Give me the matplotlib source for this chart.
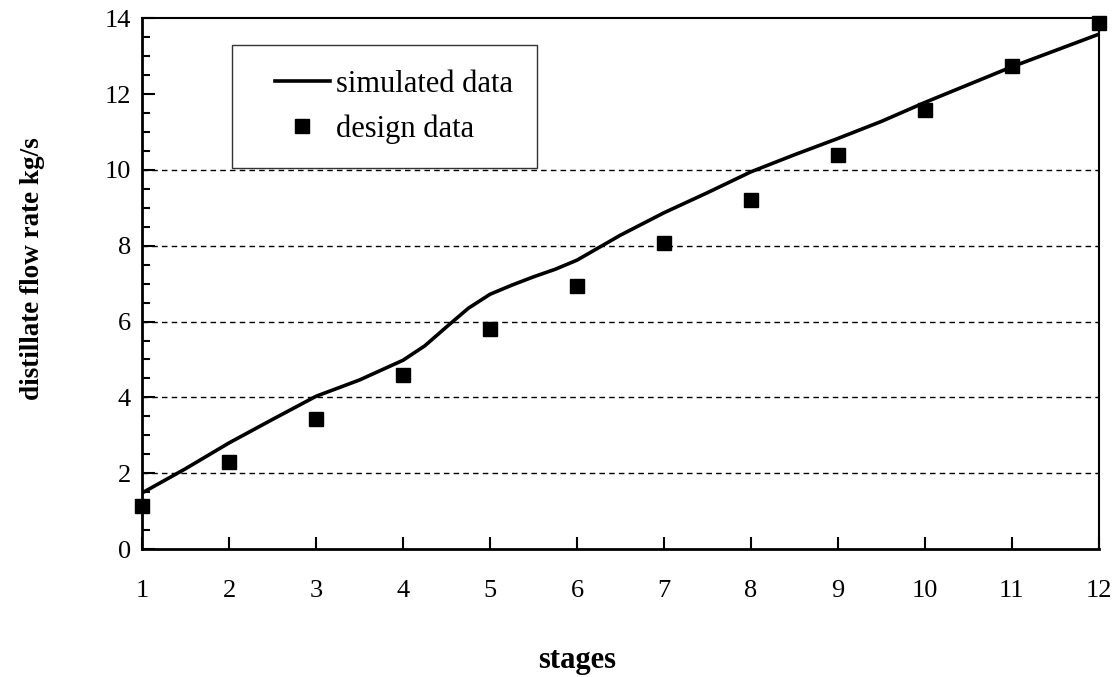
import numpy as np
import matplotlib
matplotlib.use("Agg")
import matplotlib.pyplot as plt
from matplotlib.ticker import MultipleLocator
from matplotlib.legend_handler import HandlerLine2D

# design data (squares), one value per stage
stages = [1, 2, 3, 4, 5, 6, 7, 8, 9, 10, 11, 12]
design = [1.13, 2.30, 3.43, 4.59, 5.80, 6.94, 8.07, 9.21, 10.40, 11.58, 12.74, 13.88]

# simulated curve
sim_stages = [1, 1.5, 2, 2.5, 3, 3.5, 3.75, 4, 4.25, 4.5, 4.75, 5, 5.25, 5.5, 5.75,
              6, 6.25, 6.5, 7, 7.5, 8, 8.5, 9, 9.5, 10, 10.5, 11, 11.5, 12]
simulated = [1.48, 2.12, 2.80, 3.42, 4.03, 4.46, 4.72, 4.98, 5.36, 5.86, 6.35, 6.72, 6.96, 7.18, 7.38,
             7.62, 7.95, 8.28, 8.87, 9.40, 9.95, 10.40, 10.83, 11.28, 11.78, 12.25, 12.72, 13.15, 13.58]

grid_levels = [2, 4, 6, 8, 10]


class ShiftedHandler(HandlerLine2D):
    """legend handle drawn only on the right part of the handle box"""
    def __init__(self, shift, **kw):
        super().__init__(**kw)
        self.shift = shift

    def create_artists(self, legend, orig_handle, xdescent, ydescent, width, height, fontsize, trans):
        s = self.shift * fontsize
        return super().create_artists(legend, orig_handle, xdescent - s, ydescent,
                                      width - s, height, fontsize, trans)


plt.rcParams["font.family"] = ["Liberation Serif", "DejaVu Serif"]

fig = plt.figure(figsize=(11.19, 6.77), dpi=100)
ax = fig.add_axes([0.127, 0.189, 0.855, 0.784])

ax.hlines(grid_levels, 1, 12, colors="black", linestyles=(0, (4, 3)), linewidth=1.0, zorder=1)

sim_line, = ax.plot(sim_stages, simulated, color="black", linewidth=2.6,
                    label="simulated data", zorder=3)
des_line, = ax.plot(stages, design, linestyle="none", marker="s", markersize=10, color="black",
                    label="design data", clip_on=False, zorder=4)

ax.set_xlim(1, 12)
ax.set_ylim(0, 14)
ax.set_xticks(stages)
ax.set_yticks(np.arange(0, 15, 2))
ax.yaxis.set_minor_locator(MultipleLocator(0.5))

ax.tick_params(axis="x", direction="in", length=9, width=1.5, pad=22, labelsize=19, top=False)
ax.tick_params(axis="y", which="major", direction="in", length=9, width=1.5, pad=8, labelsize=19, right=False)
ax.tick_params(axis="y", which="minor", direction="in", length=6, width=1.5, right=False)

for side in ["left", "bottom"]:
    ax.spines[side].set_linewidth(2)
for side in ["top", "right"]:
    ax.spines[side].set_linewidth(1.5)

ax.set_xlabel("stages", fontsize=22, fontweight="bold")
ax.xaxis.set_label_coords(0.4545, -0.183)
ax.set_ylabel("distillate flow rate kg/s", fontsize=19.5, fontweight="bold")
ax.yaxis.set_label_coords(-0.101, 0.529)

hm = {sim_line: ShiftedHandler(0.6), des_line: ShiftedHandler(0.6)}
leg = ax.legend(loc="upper left", bbox_to_anchor=(0.094, 0.949), fontsize=22, frameon=True,
                fancybox=False, edgecolor="black", borderpad=0.8, handlelength=2.4,
                handletextpad=0.2, labelspacing=0.5, borderaxespad=0, handler_map=hm)
leg.get_frame().set_linewidth(1.0)

fig.savefig("out.png", dpi=100)
